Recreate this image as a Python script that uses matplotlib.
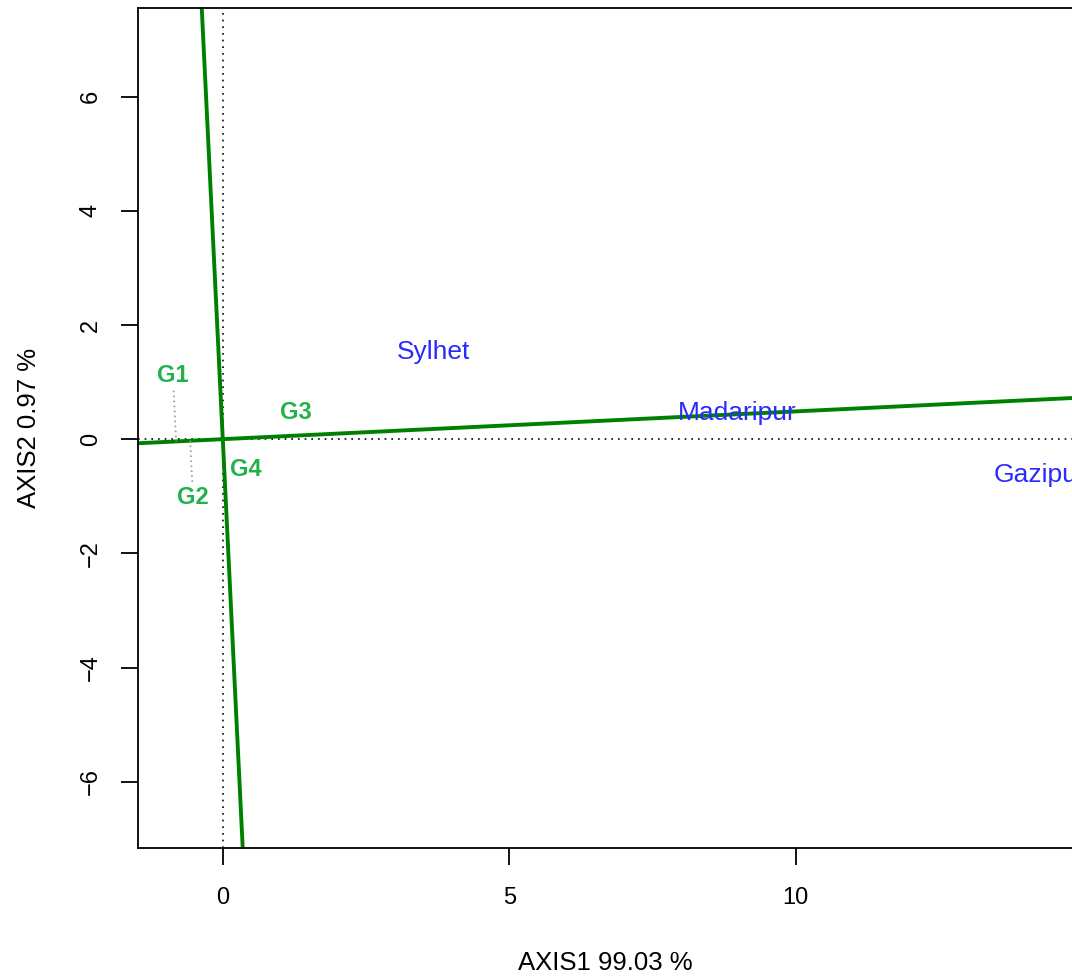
import numpy as np
import matplotlib
matplotlib.use('Agg')
import matplotlib.pyplot as plt

plt.rcParams['font.family'] = ['Liberation Sans', 'DejaVu Sans']

# genotype scores (labels) and environment scores
genotypes = ['G1', 'G2', 'G3', 'G4']
gen_x = [-0.87, -0.52, 1.27, 0.40]
gen_y = [1.12, -1.02, 0.47, -0.53]

environments = ['Sylhet', 'Madaripur', 'Gazipur']
env_x = [3.68, 8.97, 14.26]
env_y = [1.52, 0.46, -0.63]

# slope of the average environment axis
axis_slope = 0.0486

xticks = [0, 5, 10]
yticks = [-6, -4, -2, 0, 2, 4, 6]

fig = plt.figure(figsize=(10.72, 9.76), dpi=100)
ax = fig.add_axes([0.1287, 0.1311, 0.8713, 0.8607])
ax.set_xlim(-1.48, 14.82)
ax.set_ylim(-7.16, 7.55)

# reference lines through origin
ax.axhline(0, color='black', linestyle=(0, (1, 3)), linewidth=1.2)
ax.axvline(0, color='black', linestyle=(0, (1, 3)), linewidth=1.2)

# green axes: average environment axis and its perpendicular
xs = np.array([-2, 20])
ax.plot(xs, axis_slope * xs, color='#008000', linewidth=2.8)
ys = np.array([-10, 10])
ax.plot(-axis_slope * ys, ys, color='#008000', linewidth=2.8)

# projections of genotypes onto the axis
u = np.array([1, axis_slope]) / np.hypot(1, axis_slope)
for gx, gy in zip(gen_x, gen_y):
    p = np.array([gx, gy])
    proj = np.dot(p, u) * u
    d = proj - p
    dist = np.hypot(*d)
    if dist > 0.6:
        start = p + d / dist * 0.27
        ax.plot([start[0], proj[0]], [start[1], proj[1]], color='#999999',
                linestyle=(0, (1, 2)), linewidth=1.2)

for name, gx, gy in zip(genotypes, gen_x, gen_y):
    ax.text(gx, gy, name, color='#22b24c', fontsize=17, fontweight='bold',
            ha='center', va='center')

for name, ex, ey in zip(environments, env_x, env_y):
    ax.text(ex, ey, name, color='#2a2aff', fontsize=19,
            ha='center', va='center', clip_on=False)

ax.set_xticks(xticks)
ax.set_xticklabels([str(t) for t in xticks])
ax.set_yticks(yticks)
ax.set_yticklabels([str(t).replace('-', '\u2212') for t in yticks],
                   rotation=90, va='center')
ax.tick_params(labelsize=17, length=12, width=1.3)
ax.tick_params(axis='x', pad=16)
ax.tick_params(axis='y', pad=14)

for s in ax.spines.values():
    s.set_linewidth(1.3)
ax.spines['right'].set_visible(False)

ax.set_xlabel('AXIS1 99.03 %', fontsize=18.5, labelpad=30)
ax.set_ylabel('AXIS2 0.97 %', fontsize=18.5, labelpad=28)

fig.savefig('out.png', dpi=100)
